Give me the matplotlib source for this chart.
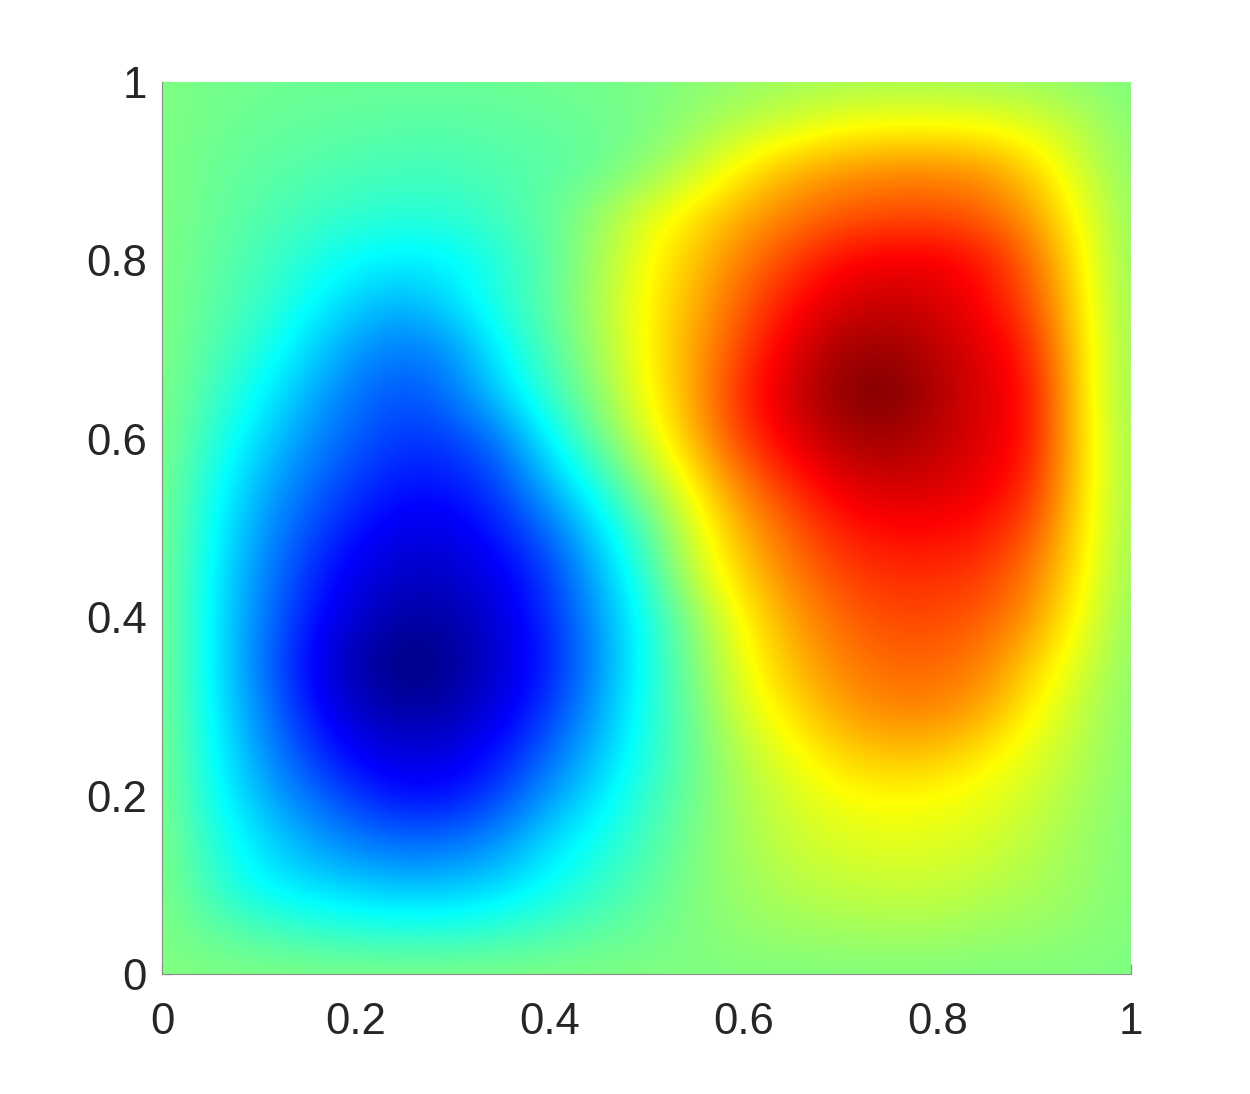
import numpy as np
import matplotlib
matplotlib.use("Agg")
import matplotlib.pyplot as plt
from matplotlib.colors import LinearSegmentedColormap

# values, top row is y=1, left column is x=0
x_values = [0, .05, .1, .15, .2, .25, .3, .35, .4, .45, .5, .55, .6, .65, .7, .75, .8, .85, .9, .95, 1]
y_values = [1, .95, .9, .85, .8, .75, .7, .65, .6, .55, .5, .45, .4, .35, .3, .25, .2, .15, .1, .05, 0]
field = [
    [0, -.02, -.03, -.04, -.04, -.04, -.04, -.04, -.03, -.02, -.01, .02, .04, .06, .07, .07, .07, .06, .05, .03, 0],
    [0, -.03, -.05, -.06, -.07, -.08, -.08, -.07, -.06, -.04, -.01, .05, .12, .18, .24, .26, .26, .25, .2, .11, .02],
    [0, -.04, -.07, -.09, -.11, -.12, -.12, -.1, -.08, -.05, .03, .15, .3, .41, .47, .5, .5, .47, .35, .16, .03],
    [0, -.05, -.09, -.13, -.16, -.18, -.17, -.12, -.06, .05, .2, .32, .43, .53, .6, .63, .63, .59, .45, .23, .04],
    [0, -.06, -.12, -.19, -.26, -.29, -.27, -.19, -.08, .07, .25, .38, .53, .66, .77, .81, .81, .74, .56, .27, .04],
    [0, -.07, -.14, -.25, -.36, -.42, -.33, -.18, -.07, .09, .27, .42, .6, .76, .87, .9, .87, .78, .62, .29, .05],
    [0, -.09, -.19, -.33, -.47, -.54, -.48, -.27, -.1, .07, .27, .45, .66, .84, .97, .99, .92, .84, .7, .31, .05],
    [0, -.12, -.26, -.41, -.55, -.62, -.54, -.35, -.15, .03, .25, .45, .72, .88, 1.02, 1.06, .95, .85, .75, .31, .05],
    [0, -.16, -.33, -.48, -.6, -.68, -.66, -.53, -.27, -.05, .18, .42, .67, .83, .95, .98, .92, .85, .74, .32, .06],
    [0, -.21, -.4, -.55, -.67, -.75, -.74, -.64, -.4, -.19, .05, .3, .54, .71, .84, .89, .87, .82, .7, .32, .06],
    [0, -.24, -.45, -.62, -.75, -.83, -.83, -.72, -.56, -.32, -.09, .2, .43, .6, .73, .78, .78, .75, .62, .3, .06],
    [0, -.26, -.49, -.68, -.83, -.9, -.89, -.81, -.66, -.41, -.16, .15, .36, .53, .65, .7, .7, .67, .53, .28, .05],
    [0, -.27, -.51, -.73, -.88, -.97, -.96, -.85, -.7, -.46, -.22, .03, .28, .45, .58, .64, .64, .6, .47, .23, .04],
    [0, -.27, -.53, -.78, -.96, -1.06, -1.01, -.87, -.73, -.48, -.23, 0, .23, .4, .52, .58, .58, .52, .36, .18, .03],
    [0, -.26, -.5, -.74, -.91, -.99, -.96, -.84, -.68, -.45, -.21, -.03, .19, .33, .46, .52, .52, .45, .28, .13, .02],
    [0, -.24, -.46, -.66, -.81, -.87, -.85, -.75, -.58, -.39, -.2, -.04, .12, .24, .35, .4, .39, .31, .2, .11, .02],
    [0, -.22, -.4, -.55, -.68, -.77, -.76, -.64, -.47, -.31, -.16, -.03, .09, .18, .25, .27, .26, .22, .16, .08, .01],
    [0, -.17, -.32, -.44, -.53, -.58, -.56, -.49, -.33, -.23, -.12, -.01, .08, .15, .19, .21, .2, .18, .12, .06, .01],
    [0, -.14, -.27, -.33, -.37, -.4, -.39, -.34, -.25, -.16, -.08, 0, .06, .11, .14, .15, .15, .12, .09, .05, .01],
    [0, -.06, -.11, -.15, -.18, -.19, -.19, -.16, -.12, -.08, -.04, 0, .04, .06, .07, .08, .08, .06, .05, .03, 0],
    [0] * 21,
]
tick_values = [0, .2, .4, .6, .8, 1]
tick_labels = ["0", "0.2", "0.4", "0.6", "0.8", "1"]

plt.rcParams["font.family"] = ["Liberation Sans", "DejaVu Sans"]

# jet as matlab has it, cyan and yellow are pure
matlab_jet = LinearSegmentedColormap.from_list("matlab_jet", [
    (0, (0, 0, .5)), (.125, (0, 0, 1)), (.375, (0, 1, 1)), (.625, (1, 1, 0)), (.875, (1, 0, 0)), (1, (.5, 0, 0))], N=512)

W, H = 1250, 1094
fig = plt.figure(figsize=(W / 100, H / 100), dpi=100)
ax = fig.add_axes([162 / W, 1 - 974 / H, (1131 - 162) / W, (974 - 82) / H])

half = (x_values[1] - x_values[0]) / 2
ax.imshow(np.array(field), cmap=matlab_jet, vmin=-1.05, vmax=1.05, aspect="auto", interpolation="bicubic", zorder=1,
          extent=[x_values[0] - half, x_values[-1] + half, y_values[-1] - half, y_values[0] + half])
ax.set_xlim(0, 1)
ax.set_ylim(0, 1)

ax.set_xticks(tick_values, tick_labels)
ax.set_yticks(tick_values, tick_labels)
ax.set_axisbelow(True)
ax.tick_params(direction="in", length=7, width=0.9, color="#8c8c8c", labelsize=31.5, labelcolor="#262626")
ax.tick_params(axis="x", pad=20)
ax.tick_params(axis="y", pad=11)
ax.spines["top"].set_visible(False)
ax.spines["right"].set_visible(False)
ax.spines["left"].set_color("#8c8c8c")
ax.spines["bottom"].set_color("#8c8c8c")

fig.savefig("out.png", dpi=100)
